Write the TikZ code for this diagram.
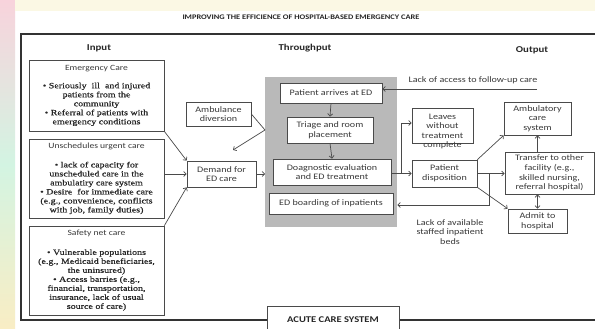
\documentclass[tikz,border=0pt]{standalone}
\usepackage{fontspec}
\setmainfont[FakeStretch=1.2]{Carlito}
\newfontfamily\serifb[FakeStretch=1.25,FakeBold=0.6]{Liberation Serif}
\usetikzlibrary{arrows.meta,calc}
\definecolor{edge}{HTML}{4A4A4A}
\definecolor{txt}{HTML}{3A3A3A}
\definecolor{grayfill}{HTML}{B9B9B9}
\definecolor{bgpink}{HTML}{F8D3DC}
\definecolor{bggreen}{HTML}{D3F4E2}
\definecolor{bgyellow}{HTML}{F9EDC4}
\definecolor{bgtop}{HTML}{FBF8E4}
\newcommand\bx[7][]{\node[box,#1, minimum width={#5-#3}, minimum height={#6-#4}] (#2) at ({(#3+#5)/2},{(#4+#6)/2}) {#7};}
\newcommand\intitle[1]{{\normalfont\fontsize{8}{9}\selectfont\color{txt}#1}}
\begin{document}
\begin{tikzpicture}[x=1pt,y=-1pt,
  box/.style={draw=edge, line width=0.7pt, fill=white, align=center, inner sep=0pt, text=txt,
    font=\fontsize{8.4}{9.6}\selectfont},
  inbox/.style={font=\serifb\fontsize{8}{9}\selectfont, text=black!85},
  lbl/.style={align=center, inner sep=0pt, text=txt, font=\fontsize{8.4}{9.6}\selectfont},
  hdr/.style={inner sep=0pt, text=black!85, font=\bfseries\fontsize{9}{10}\selectfont},
  conn/.style={draw=edge, line width=0.7pt, -{Straight Barb[length=2.5pt,width=5pt]}},
  plain/.style={draw=edge, line width=0.7pt}]
\useasboundingbox (0,0) rectangle (595,329);
\clip (0,0) rectangle (595,329);
\fill[white] (0,0) rectangle (595,329);
\shade[top color=bgpink, bottom color=bgyellow, middle color=bggreen] (0,0) rectangle (15,329);
\fill[bgtop] (15,0) rectangle (595,11);
% title and headers
\node[inner sep=0pt, text=black!85, font=\bfseries\fontsize{7}{8}\selectfont] (title) at (301,17) {IMPROVING THE EFFICIENCE OF HOSPITAL-BASED EMERGENCY CARE};
\draw[draw=black!80, line width=1.3pt] (21,34) rectangle (600,320);
\node[hdr] (hin) at (99,48) {Input};
\node[hdr] (hth) at (305,48) {Throughput};
\node[hdr] (hout) at (532,50) {Output};
% input boxes
\bx[inbox]{emc}{29}{60}{164}{131}{\intitle{Emergency Care}\\[9pt]• Seriously\ \ ill\ \ and injured\\patients from the\\community\\• Referral of patients with\\emergency conditions}
\bx[inbox]{unsch}{29}{139}{164}{218}{\intitle{Unschedules urgent care}\\[10pt]• lack of capacity for\\unscheduled care in the\\ambulatiry care system\\• Desire\ \ for immediate care\\(e.g., convenience, conflicts\\with job, family duties)}
\bx[inbox]{safety}{29}{226}{164}{315}{\intitle{Safety net care}\\[10pt]• Vulnerable populations\\(e.g., Medicaid beneficiaries,\\the uninsured)\\• Access barries (e.g.,\\financial, transportation,\\insurance, lack of usual\\source of care)}
% throughput
\fill[grayfill] (265,77) rectangle (397,227);
\coordinate (graywest) at (265,130);
\bx{ambdiv}{186}{102}{251}{126}{Ambulance\\diversion}
\bx{demand}{187}{161}{256}{187}{Demand for\\ED care}
\bx{arrive}{280}{83}{382}{103}{Patient arrives at ED}
\bx{triage}{287}{117}{373}{143}{Triage and room\\placement}
\bx{diag}{273}{159}{391}{185}{Doagnostic evaluation\\and ED treatment}
\bx{board}{269}{193}{393}{214}{ED boarding of inpatients}
% output
\bx{leaves}{412}{108}{473}{143}{}
\node[lbl] (leavestxt) at (442.5,131.5) {Leaves\\without\\treatment\\complete};
\bx{dispo}{412}{160}{477}{187}{Patient\\disposition}
\bx{ambul}{504}{102}{571}{135}{Ambulatory\\care\\system}
\bx{transfer}{505}{152}{594}{194}{Transfer to other\\facility (e.g.,\\skilled nursing,\\referral hospital)}
\bx{admit}{508}{209}{567}{233}{Admit to\\hospital}
\node[lbl] (lackfu) at (473,80) {Lack of access to follow-up care};
\node[lbl] (lackbeds) at (450,232) {Lack of available\\staffed inpatient\\beds};
\node[box, font=\bfseries\fontsize{8.8}{9}\selectfont, text=black!85, minimum width=132, minimum height=30] (acute) at (333,321) {\raisebox{2pt}{ACUTE CARE SYSTEM}};
% connectors
\draw[conn] (emc.south east) -- (demand.north west);
\draw[conn] (unsch.east |- demand.west) -- (demand.west);
\draw[conn] (safety.north east) -- (demand.south west);
\draw[conn] (demand.east) -- (demand.east -| graywest);
\draw[plain] (ambdiv.east) -- (graywest);
\draw[conn] (graywest) -- (233,150);
\draw[conn] (arrive.south) -- (triage.north);
\draw[conn] (triage.south) -- (diag.north);
\coordinate (split) at (401,173.5);
\draw[conn] (diag.east |- dispo.west) -- (dispo.west);
\draw[conn] (split) |- ([yshift=2.5pt]leaves.west);
\coordinate (lf) at (537,89);
\draw[conn] (lf) -- (arrive.east |- lf);
\draw[conn] (dispo.north east) -- (ambul.south west);
\draw[conn] (dispo.east) -- (dispo.east -| transfer.west);
\draw[conn] (dispo.south east) -- (admit.north west);
\draw[conn] (ambul.south |- transfer.north) -- (ambul.south);
\draw[conn, {Straight Barb[length=2.5pt,width=5pt]}-{Straight Barb[length=2.5pt,width=5pt]}] (admit.north |- transfer.south) -- (admit.north);
\coordinate (bd) at (489,174);
\draw[conn] (bd) |- ($(board.east)+(4,1.5)$);
\end{tikzpicture}
\end{document}
